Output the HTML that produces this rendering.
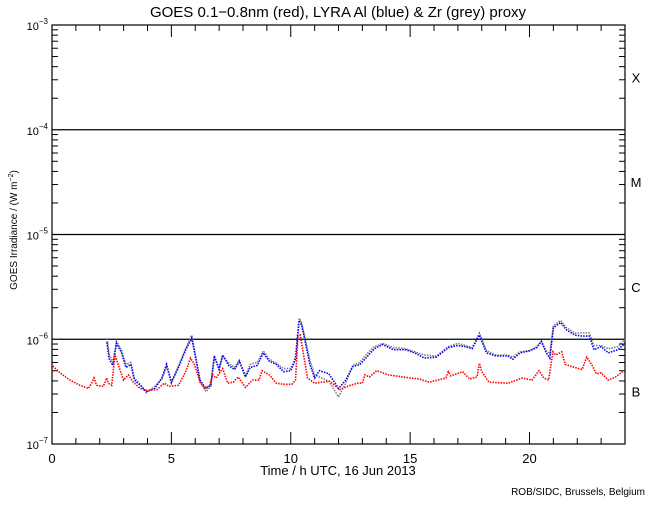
<!DOCTYPE html>
<html><head><meta charset="utf-8"><style>
body{margin:0;background:#fff;}
svg text{font-family:"Liberation Sans",sans-serif;fill:#000;}
</style></head><body>
<svg id="chart" width="650" height="500" viewBox="0 0 650 500" xmlns="http://www.w3.org/2000/svg">
<rect width="650" height="500" fill="#fff"/>
<text x="338" y="17" font-size="15" text-anchor="middle">GOES 0.1−0.8nm (red), LYRA Al (blue) &amp; Zr (grey) proxy</text>
<g id="axes"></g>
<g id="series"></g>
<text x="338" y="475" font-size="13" text-anchor="middle">Time / h UTC, 16 Jun 2013</text>
<text transform="translate(17,230) rotate(-90)" font-size="10" text-anchor="middle">GOES Irradiance / (W m<tspan dy="-4" font-size="7">−2</tspan><tspan dy="4">)</tspan></text>
<text x="645" y="495" font-size="10" text-anchor="end">ROB/SIDC, Brussels, Belgium</text>
</svg>
<script>
const redHours=[0.03,0.33,0.75,1.17,1.52,1.66,1.76,1.87,2.15,2.29,2.36,2.5,2.64,2.78,3.0,3.2,3.4,3.7,3.98,4.4,4.7,4.9,5.3,5.6,5.8,5.97,6.2,6.4,6.6,6.73,6.87,7.15,7.36,7.6,7.8,8.1,8.4,8.67,8.8,9.1,9.4,9.7,10.05,10.2,10.3,10.4,10.5,10.7,11.0,11.3,11.63,12.05,12.5,12.8,13.0,13.1,13.3,13.6,14.1,14.7,15.4,15.8,16.5,16.6,16.7,17.2,17.5,17.8,17.9,18.0,18.3,19.1,19.7,20.1,20.4,20.6,20.8,20.98,21.1,21.35,21.5,21.9,22.2,22.4,22.6,22.8,23.0,23.3,23.6,23.9];
const redLog=[-6.255,-6.32,-6.39,-6.44,-6.47,-6.42,-6.37,-6.44,-6.45,-6.37,-6.42,-6.44,-6.15,-6.25,-6.39,-6.34,-6.41,-6.47,-6.49,-6.48,-6.42,-6.45,-6.44,-6.31,-6.18,-6.24,-6.41,-6.47,-6.44,-6.34,-6.37,-6.28,-6.42,-6.41,-6.36,-6.46,-6.39,-6.39,-6.30,-6.34,-6.42,-6.43,-6.43,-6.39,-5.975,-5.96,-6.10,-6.37,-6.42,-6.41,-6.40,-6.48,-6.44,-6.42,-6.42,-6.34,-6.36,-6.30,-6.34,-6.36,-6.38,-6.41,-6.37,-6.31,-6.35,-6.31,-6.38,-6.36,-6.23,-6.31,-6.41,-6.42,-6.37,-6.39,-6.30,-6.37,-6.39,-6.12,-6.15,-6.12,-6.24,-6.27,-6.29,-6.17,-6.24,-6.33,-6.32,-6.39,-6.36,-6.31];
const blueHours=[2.3,2.4,2.55,2.7,2.9,3.1,3.3,3.45,3.7,3.95,4.3,4.6,4.8,5.0,5.3,5.6,5.85,6.0,6.2,6.45,6.65,6.8,7.0,7.15,7.4,7.65,7.85,8.1,8.3,8.6,8.85,9.1,9.4,9.7,10.0,10.2,10.35,10.45,10.6,10.8,11.0,11.2,11.6,12.0,12.3,12.6,12.9,13.1,13.5,13.85,14.3,14.8,15.2,15.6,16.1,16.6,17.0,17.3,17.6,17.9,18.2,18.6,19.1,19.3,19.6,20.0,20.3,20.5,20.7,20.85,21.0,21.3,21.55,21.9,22.2,22.5,22.7,23.0,23.3,23.7,24.0];
const blueLog=[-6.03,-6.19,-6.25,-6.04,-6.12,-6.27,-6.24,-6.39,-6.44,-6.50,-6.47,-6.37,-6.24,-6.41,-6.27,-6.10,-5.99,-6.16,-6.39,-6.47,-6.44,-6.16,-6.29,-6.15,-6.25,-6.29,-6.21,-6.36,-6.27,-6.25,-6.13,-6.21,-6.24,-6.31,-6.30,-6.19,-5.82,-5.86,-6.02,-6.24,-6.37,-6.30,-6.33,-6.47,-6.39,-6.26,-6.24,-6.19,-6.09,-6.05,-6.10,-6.10,-6.13,-6.18,-6.17,-6.08,-6.06,-6.07,-6.09,-5.96,-6.13,-6.16,-6.16,-6.19,-6.13,-6.11,-6.08,-6.02,-6.13,-6.18,-5.89,-5.84,-5.91,-5.96,-5.97,-5.97,-6.10,-6.07,-6.13,-6.10,-6.04];
const greyHours=[2.3,2.4,2.55,2.7,2.9,3.1,3.3,3.45,3.7,3.95,4.3,4.6,4.8,5.0,5.3,5.6,5.85,6.0,6.2,6.45,6.65,6.8,7.0,7.15,7.4,7.65,7.85,8.1,8.3,8.6,8.85,9.1,9.4,9.7,10.0,10.2,10.35,10.45,10.6,10.8,11.0,11.2,11.6,12.0,12.3,12.6,12.9,13.1,13.5,13.85,14.3,14.8,15.2,15.6,16.1,16.6,17.0,17.3,17.6,17.9,18.2,18.6,19.1,19.3,19.6,20.0,20.3,20.5,20.7,20.85,21.0,21.3,21.55,21.9,22.2,22.5,22.7,23.0,23.3,23.7,24.0];
const greyLog=[-5.99,-6.15,-6.22,-6.02,-6.10,-6.24,-6.22,-6.37,-6.43,-6.51,-6.45,-6.38,-6.26,-6.42,-6.25,-6.09,-5.96,-6.14,-6.40,-6.50,-6.45,-6.17,-6.27,-6.16,-6.23,-6.27,-6.20,-6.35,-6.24,-6.22,-6.11,-6.19,-6.23,-6.28,-6.28,-6.17,-5.80,-5.84,-5.99,-6.20,-6.34,-6.36,-6.40,-6.55,-6.42,-6.25,-6.22,-6.16,-6.07,-6.04,-6.08,-6.09,-6.12,-6.15,-6.16,-6.07,-6.04,-6.06,-6.08,-5.94,-6.11,-6.15,-6.15,-6.17,-6.12,-6.11,-6.07,-6.02,-6.11,-6.14,-5.87,-5.82,-5.89,-5.94,-5.94,-5.94,-6.06,-6.06,-6.09,-6.07,-6.00];
const xTickLabels=["0","5","10","15","20"];
const yDecades=[-3,-4,-5,-6,-7];
const classLetters=["X","M","C","B"];

const NS="http://www.w3.org/2000/svg";
const L=52,R=625,T=25,B=444;
const X=h=>L+(h/24)*(R-L);
const Y=lg=>T+(-3-lg)*(B-T)/4;
function mk(tag,attrs,parent){const e=document.createElementNS(NS,tag);for(const k in attrs)e.setAttribute(k,attrs[k]);parent.appendChild(e);return e;}
const axes=document.getElementById('axes'),ser=document.getElementById('series');
const frame=mk('rect',{x:L,y:T,width:R-L,height:B-T,fill:'none',stroke:'#000','stroke-width':1.2},axes);


// x ticks
for(let h=0;h<=24;h++){const len=h%5===0?12:6;
 const t1=mk('line',{x1:X(h),x2:X(h),y1:B,y2:B-len,stroke:'#000'},axes);
 
 
 const t2=mk('line',{x1:X(h),x2:X(h),y1:T,y2:T+len,stroke:'#000'},axes);
 
 }
xTickLabels.forEach(s=>{const t=mk('text',{x:X(+s),y:B+19,'font-size':13,'text-anchor':'middle'},axes);t.textContent=s;
 
 });
// y ticks
for(let d=-7;d<-3;d++){for(let m=2;m<=9;m++){const y=Y(d+Math.log10(m));
 const a=mk('line',{x1:L,x2:L+6,y1:y,y2:y,stroke:'#000'},axes);
 
 
 const b=mk('line',{x1:R,x2:R-6,y1:y,y2:y,stroke:'#000'},axes);
 
 }}
yDecades.forEach(d=>{const y=Y(d);
 if(d>-7&&d<-3){const g=mk('line',{x1:L,x2:R,y1:y,y2:y,stroke:'#000','stroke-width':1.2},axes);
  
  }
 const t=mk('text',{x:L-4,y:y+5,'font-size':11,'text-anchor':'end'},axes);
 t.innerHTML='10<tspan dy="-6" font-size="8">'+(d<0?'−':'')+Math.abs(d)+'</tspan>';
 
 });
classLetters.forEach((c,i)=>{const t=mk('text',{x:636,y:Y(-3.5-i)+5,'font-size':13,'text-anchor':'middle'},axes);t.textContent=c;
 
 });
function series(hs,ls,col,name){const pts=hs.map((h,i)=>X(h).toFixed(1)+','+Y(ls[i]).toFixed(1)).join(' ');
 const p=mk('polyline',{points:pts,fill:'none',stroke:col,'stroke-width':1.6,'stroke-dasharray':'1.5 1.2'},ser);
 
 }
series(greyHours,greyLog,'#808080','zr-grey-series');
series(blueHours,blueLog,'#0000ff','al-blue-series');
series(redHours,redLog,'#ff0000','goes-red-series');
</script>
</body></html>
